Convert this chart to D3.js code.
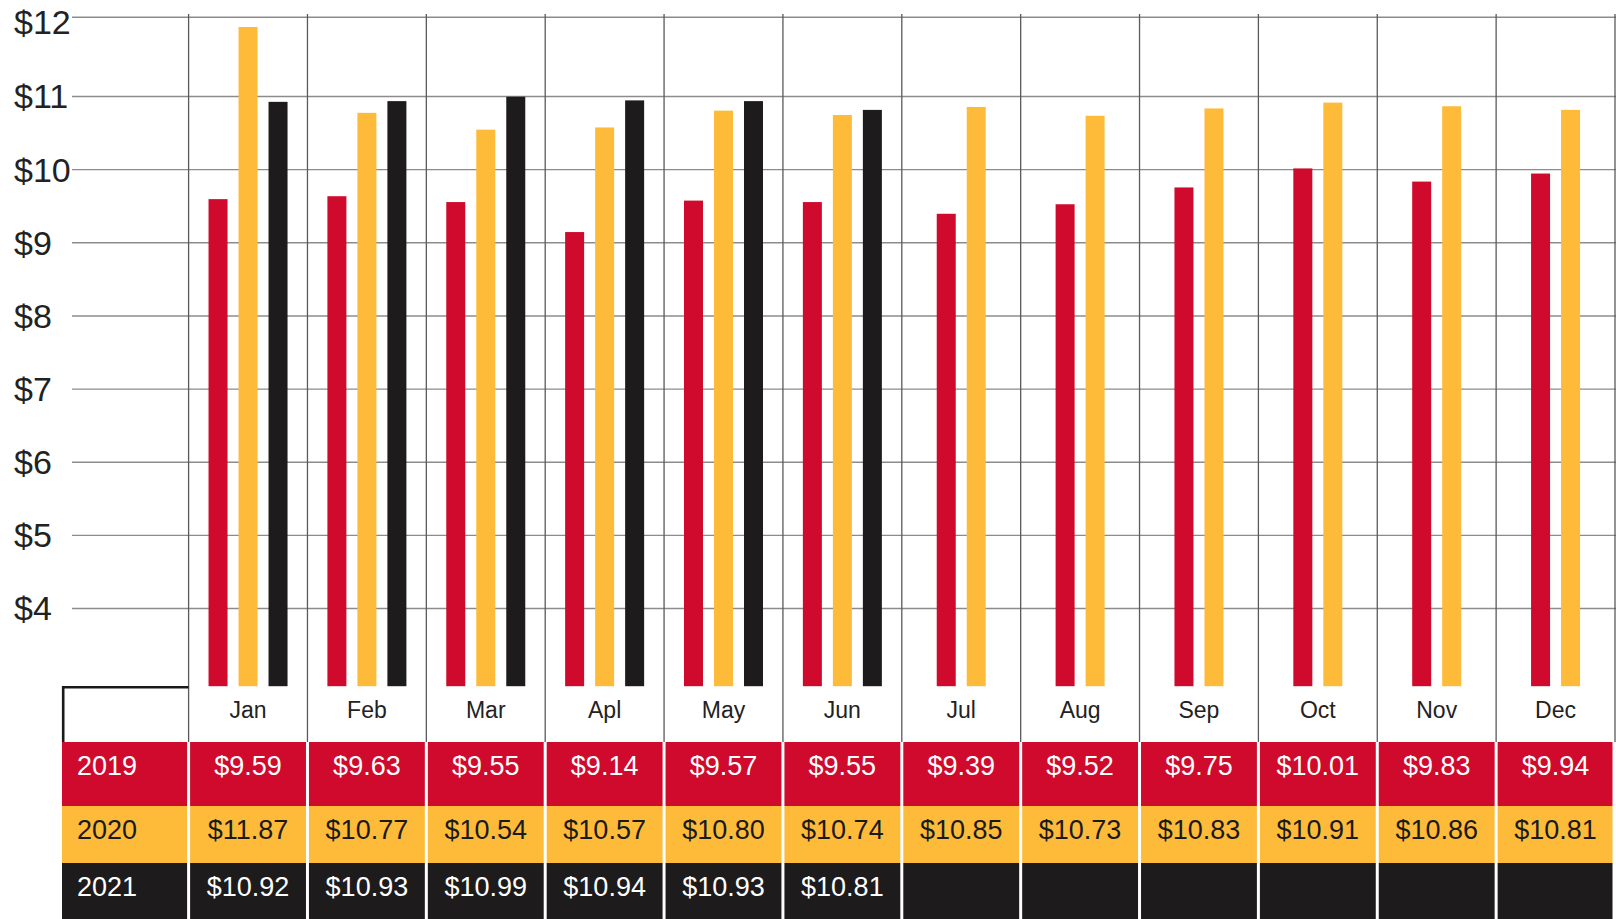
<!DOCTYPE html>
<html>
<head>
<meta charset="utf-8">
<script src="https://cdn.jsdelivr.net/npm/d3@7/dist/d3.min.js"></script>
<style>
  html, body { margin: 0; padding: 0; background: #fff; }
  svg { display: block; }
  text { font-family: "Liberation Sans", Arial, sans-serif; }
</style>
</head>
<body>
<svg id="chart" width="1616" height="919"></svg>
<script>
// ---- Data ----
const months = ["Jan","Feb","Mar","Apl","May","Jun","Jul","Aug","Sep","Oct","Nov","Dec"];
const years = ["2019","2020","2021"];
const values2019 = [9.59, 9.63, 9.55, 9.14, 9.57, 9.55, 9.39, 9.52, 9.75, 10.01, 9.83, 9.94];
const values2020 = [11.87, 10.77, 10.54, 10.57, 10.80, 10.74, 10.85, 10.73, 10.83, 10.91, 10.86, 10.81];
const values2021 = [10.92, 10.93, 10.99, 10.94, 10.93, 10.81, null, null, null, null, null, null];
const yTickValues = [4, 5, 6, 7, 8, 9, 10, 11, 12];
const seriesColors = ["#CF0A2C", "#FEBB3A", "#1D1B1C"];
const seriesText = ["#ffffff", "#1a1a1a", "#ffffff"];

const series = [values2019, values2020, values2021];

// ---- Layout ----
const W = 1616, H = 919;
const svg = d3.select("#chart");

const x = d3.scaleBand().domain(months).range([188.6, 1615]).paddingInner(0).paddingOuter(0);
// the reference's top grid interval is slightly taller than the others
const y = d3.scaleLinear().domain([3, 11, 12]).range([681.2, 96, 16.7]);

const barW = 19, barStep = 30;
const barBase = y(3) + 5;

// ---- Horizontal gridlines + y labels (axis) ----
const yAxis = d3.axisRight(y)
  .tickValues(yTickValues)
  .tickSize(W - 72)
  .tickFormat(d => "$" + d);

const gy = svg.append("g").attr("transform", "translate(72,0)").call(yAxis);
gy.select(".domain").remove();
gy.selectAll(".tick line").attr("stroke", "#8c8c8c").attr("stroke-width", 1.4);
gy.selectAll(".tick text")
  .attr("x", 14 - 72)
  .attr("y", d => d === 12 ? 5 : 0)
  .attr("dy", "0.35em")
  .attr("text-anchor", "start")
  .attr("fill", "#222")
  .style("font-size", "34px")
  .style("font-family", "'Liberation Sans', Arial, sans-serif");

// ---- Vertical gridlines (band edges) ----
const edges = months.map(m => x(m)).concat([x(months[months.length - 1]) + x.bandwidth()]);
svg.append("g").selectAll("line")
  .data(edges)
  .join("line")
  .attr("x1", d => d).attr("x2", d => d)
  .attr("y1", 14).attr("y2", 742)
  .attr("stroke", "#5a5a5a")
  .attr("stroke-width", 1.3);

// ---- Bars ----
const barData = [];
months.forEach((m, mi) => {
  const present = series.map((s, si) => ({si, v: s[mi]})).filter(d => d.v != null);
  const n = present.length;
  const cx = x(m) + x.bandwidth() / 2;
  present.forEach((d, k) => {
    barData.push({month: m, si: d.si, v: d.v, x: cx + (k - (n - 1) / 2) * barStep - barW / 2});
  });
});

svg.append("g").selectAll("rect")
  .data(barData)
  .join("rect")
  .attr("x", d => d.x)
  .attr("width", barW)
  .attr("y", d => y(d.v))
  .attr("height", d => barBase - y(d.v))
  .attr("fill", d => seriesColors[d.si]);

// ---- Table ----
const headerTop = 686, headerBottom = 742;
const rowTops = [742, 806, 863];
const rowBottoms = [806, 863, 920];
const labelLeft = 62;

// header corner cell border
svg.append("path")
  .attr("d", `M${labelLeft + 1.2},${headerBottom} L${labelLeft + 1.2},${headerTop + 1.2} L${x(months[0])},${headerTop + 1.2}`)
  .attr("fill", "none")
  .attr("stroke", "#1a1a1a")
  .attr("stroke-width", 2.6);

// month labels
svg.append("g").selectAll("text")
  .data(months)
  .join("text")
  .attr("x", d => x(d) + x.bandwidth() / 2)
  .attr("y", 718)
  .attr("text-anchor", "middle")
  .attr("fill", "#222")
  .style("font-size", "23px")
  .text(d => d);

// rows
const rows = svg.append("g");
years.forEach((yr, ri) => {
  const top = rowTops[ri], bot = rowBottoms[ri];
  // label cell
  rows.append("rect")
    .attr("x", labelLeft).attr("y", top)
    .attr("width", x(months[0]) - 1.5 - labelLeft).attr("height", bot - top)
    .attr("fill", seriesColors[ri]);
  rows.append("text")
    .attr("x", labelLeft + 15).attr("y", top + 33)
    .attr("fill", seriesText[ri])
    .style("font-size", "27px")
    .text(yr);
  // value cells
  months.forEach((m, mi) => {
    const left = x(m) + 1.5;
    const w = x.bandwidth() - 3;
    rows.append("rect")
      .attr("x", left).attr("y", top)
      .attr("width", mi === months.length - 1 ? w - 1 : w).attr("height", bot - top)
      .attr("fill", seriesColors[ri]);
    const v = series[ri][mi];
    if (v != null) {
      rows.append("text")
        .attr("x", x(m) + x.bandwidth() / 2).attr("y", top + 33)
        .attr("text-anchor", "middle")
        .attr("fill", seriesText[ri])
        .style("font-size", "27px")
        .text("$" + v.toFixed(2));
    }
  });
});
</script>
</body>
</html>
